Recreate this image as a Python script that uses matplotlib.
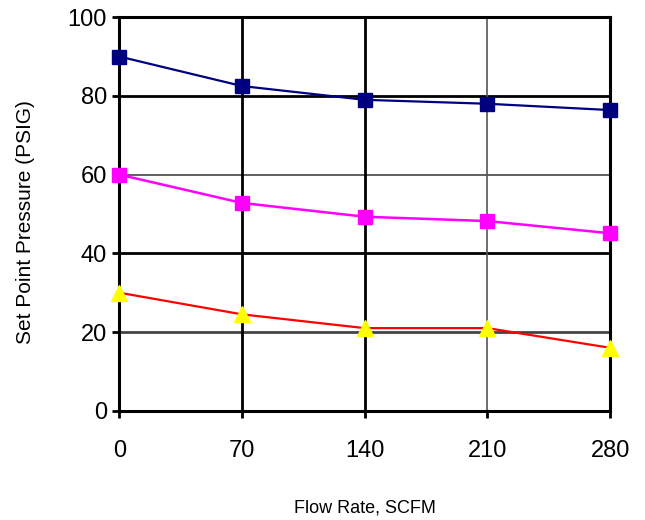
import matplotlib

matplotlib.use('Agg')
import matplotlib.pyplot as plt

plt.rcParams['font.family'] = ['Liberation Sans', 'DejaVu Sans']

flow = [0, 70, 140, 210, 280]
high = [90, 82.5, 79, 78, 76.4]
mid = [60, 52.8, 49.3, 48.2, 45.1]
low = [30, 24.5, 21, 21, 16]
yticks = [0, 20, 40, 60, 80, 100]

fig = plt.figure(figsize=(6.45, 5.2), dpi=100)
ax = fig.add_axes([0.185, 0.21, 0.761, 0.757])

# grid drawn by hand to get the mixed weights of the original
for yv, c, w in [(20, '#444444', 2), (40, 'black', 2), (60, '#444444', 1.2), (80, 'black', 2)]:
    ax.axhline(yv, color=c, lw=w, zorder=1)
for xv, c, w in [(70, 'black', 2), (140, 'black', 2), (210, '#555555', 1.2)]:
    ax.axvline(xv, color=c, lw=w, zorder=1)

ax.plot(flow, high, color='#000080', lw=1.6, marker='s', ms=10, mec='#000080', zorder=3, clip_on=False)
ax.plot(flow, mid, color='#FF00FF', lw=1.8, marker='s', ms=10, mec='#FF00FF', zorder=3, clip_on=False)
ax.plot(flow, low, color='#FF0000', lw=1.6, zorder=3, clip_on=False)
ax.plot(flow, low, ls='none', marker='^', ms=11, color='#FFFF00', mec='#FFFF00', zorder=4, clip_on=False)

ax.set_xlim(0, 280)
ax.set_ylim(0, 100)
ax.set_xticks(flow)
ax.set_yticks(yticks)
for s in ax.spines.values():
    s.set_linewidth(2.2)
ax.tick_params(axis='x', length=5, width=2, pad=16, labelsize=17)
ax.tick_params(axis='y', length=5, width=2, pad=4, labelsize=17)

ax.set_xlabel('Flow Rate, SCFM', fontsize=13, labelpad=27)
ax.set_ylabel('Set Point Pressure (PSIG)', fontsize=15)
ax.yaxis.set_label_coords(-0.172, 0.48)

plt.savefig('out.png', dpi=100)
